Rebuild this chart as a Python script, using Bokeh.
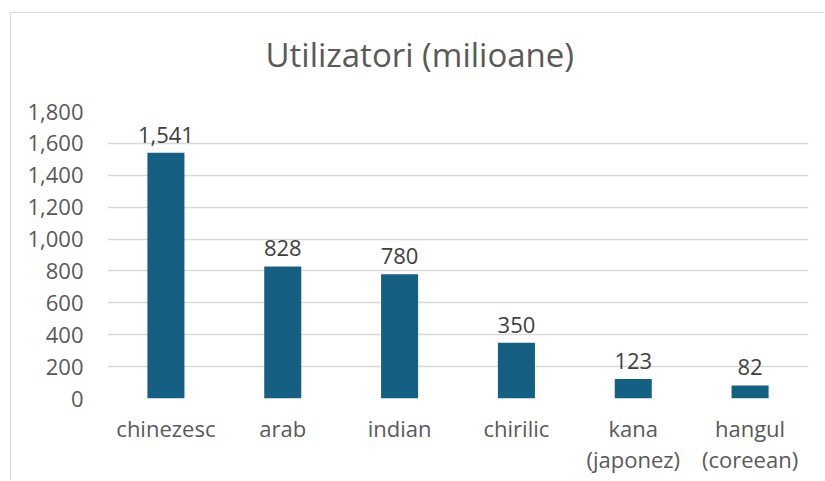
from bokeh.plotting import figure
from bokeh.models import ColumnDataSource, LabelSet, FixedTicker, NumeralTickFormatter, Title
from bokeh.core.properties import value
from bokeh.embed import file_html
from bokeh.resources import INLINE

categories = ["chinezesc", "arab", "indian", "chirilic", "kana\n(japonez)", "hangul\n(coreean)"]
users = [1541, 828, 780, 350, 123, 82]
y_ticks = [0, 200, 400, 600, 800, 1000, 1200, 1400, 1600, 1800]

FONT = "Open Sans"
GRAY = "#595959"
BAR = "#156082"

src = ColumnDataSource(dict(cat=categories, val=users,
                            lab=[f"{v:,}" for v in users]))

p = figure(x_range=categories, y_range=(0, 1800), width=813, height=468,
           output_backend="svg", toolbar_location=None,
           min_border_left=96, min_border_right=16, min_border_top=98, min_border_bottom=83)
p.styles = {"margin-left": "10px", "margin-top": "12px",
            "border-left": "1px solid #D9D9D9", "border-top": "1px solid #D9D9D9"}

p.vbar(x="cat", top="val", width=0.317, source=src, color=BAR, line_color=None)

labels = LabelSet(x="cat", y="val", text="lab", source=src, text_align="center",
                  text_baseline="bottom", y_offset=10, text_font=value(FONT),
                  text_font_size="22px", text_color="#404040")
p.add_layout(labels)

# spacer between the frame and the title
p.add_layout(Title(text=" ", text_font_size="1px", standoff=27), "above")

p.title.text = "Utilizatori (milioane)"
p.title.align = "left"
p.title.offset = 158
p.title.standoff = 10
p.title.text_font = FONT
p.title.text_font_size = "33px"
p.title.text_font_style = "normal"
p.title.text_color = GRAY

p.outline_line_color = None
p.xgrid.grid_line_color = None
p.ygrid.grid_line_color = "#D9D9D9"
p.ygrid.grid_line_width = 1.3

p.yaxis.ticker = FixedTicker(ticks=y_ticks)
p.yaxis.formatter = NumeralTickFormatter(format="0,0")
for ax in (p.xaxis[0], p.yaxis[0]):
    ax.axis_line_color = None
    ax.major_tick_line_color = None
    ax.minor_tick_line_color = None
    ax.major_label_text_font = FONT
    ax.major_label_text_font_size = "22px"
    ax.major_label_text_color = GRAY
p.yaxis.major_label_standoff = 18
p.xaxis.major_label_standoff = 8
p.xaxis.major_label_text_line_height = 1.05

open("out.html", "w").write(file_html(p, INLINE))
